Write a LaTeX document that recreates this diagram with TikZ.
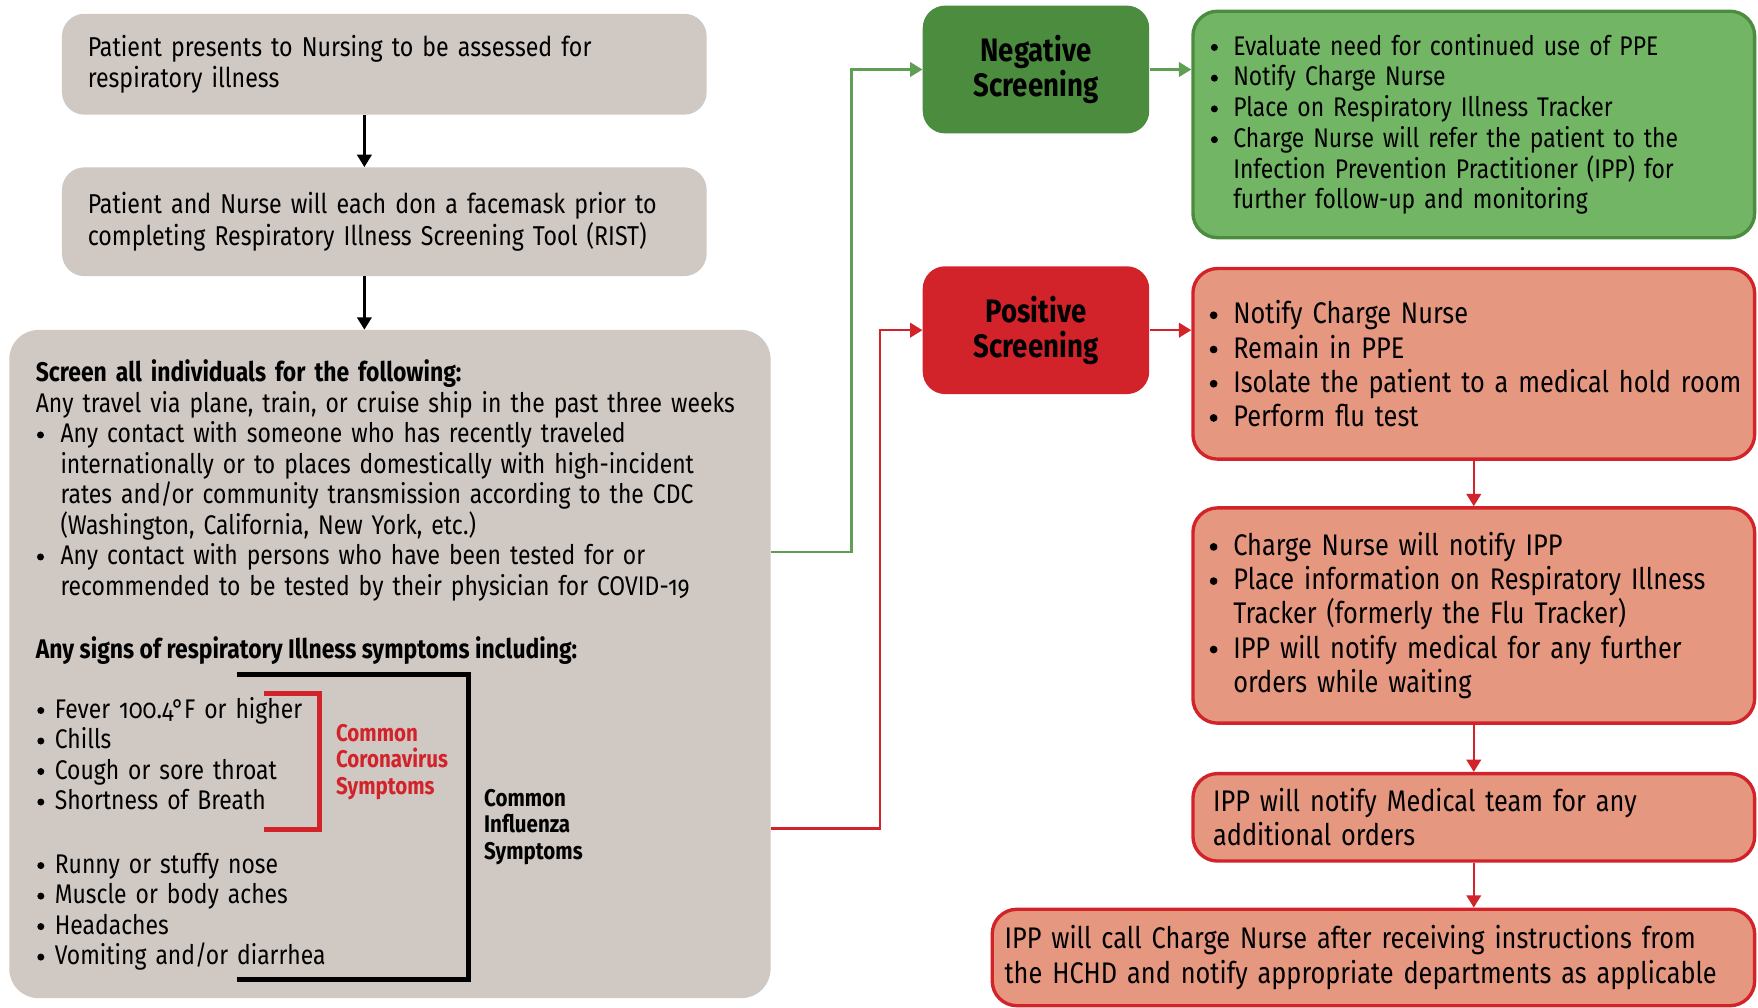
\documentclass[tikz,border=0pt]{standalone}
\usepackage{fontspec}
\setmainfont{Fira Sans}[Numbers=OldStyle,FakeStretch=0.85]
\usepackage[]{xcolor}
\usetikzlibrary{arrows.meta}
\usetikzlibrary{positioning}
\definecolor{boxgray}{RGB}{207,200,195}
\definecolor{darkgreen}{RGB}{76,140,63}
\definecolor{lightgreen}{RGB}{114,181,100}
\definecolor{linegreen}{RGB}{96,158,84}
\definecolor{scrred}{RGB}{210,35,42}
\definecolor{salmon}{RGB}{229,151,128}
\newdimen\upx
\upx=0.025cm
\newcommand{\fL}{\fontsize{17.1}{19.35}\selectfont}
\newcommand{\fT}{\fontsize{17.3}{19.9}\selectfont}
\newcommand{\fG}{\fontsize{17.1}{19.5}\selectfont}
\newcommand{\fR}{\fontsize{18.9}{21.7}\selectfont}
\newcommand{\fS}{\fontsize{15.3}{16.8}\selectfont}
\newcommand{\fH}{\fontsize{20.6}{22}\selectfont}
\newcommand{\dotb}{\tikz[baseline=0pt]\fill (0.24em,0.29em) circle[radius=0.13em];}
\newcommand{\itm}[2][0pt]{\hangindent=#2\hangafter=1\makebox[#2][l]{\hspace{#1}\dotb}}
\tikzset{graybox/.style = {fill=boxgray, rounded corners=20\upx, inner sep=0, align=left}}
\tikzset{txt/.style = {inner sep=0, align=left}}
\tikzset{titlebox/.style = {minimum width=202\upx, minimum height=114\upx, rounded corners=20\upx, align=center, font=\fH\bfseries}}
\tikzset{listbox/.style = {minimum width=501\upx, rounded corners=22\upx, line width=3\upx, align=left, text width=469\upx, inner xsep=16\upx, inner ysep=0}}
\tikzset{tip/.style = {-{Triangle[length=0.275cm,width=0.325cm]}}}
\tikzset{blackarrow/.style = {tip, line width=2\upx}}
\tikzset{greenarrow/.style = {tip, line width=2\upx, linegreen}}
\tikzset{redarrow/.style = {tip, line width=2\upx, scrred}}

\begin{document}
\begin{tikzpicture}[x=0.025cm, y=-0.025cm, font=\fL]
    \useasboundingbox (0,0) rectangle (1568,899);
    % left column
    \node[graybox, anchor=north west, minimum width=575\upx, minimum height=90\upx, text width=529\upx, font=\fT] (pres) at (55,12) {Patient presents to Nursing to be assessed for\\respiratory illness};
    \node[graybox, anchor=north west, minimum width=575\upx, minimum height=97\upx, text width=529\upx, font=\fT] (mask) at (55,149) {Patient and Nurse will each don a facemask prior to\\completing Respiratory Illness Screening Tool (RIST)};
    \node[graybox, anchor=north west, minimum width=679\upx, minimum height=596\upx, rounded corners=26\upx] (scr) at (8,294) {};
    \coordinate (arrx) at (325,0);
    \draw[blackarrow] (pres.south -| arrx) -- (mask.north -| arrx);
    \draw[blackarrow] (mask.south -| arrx) -- (scr.north -| arrx);

    % screening questions
    \node[txt, anchor=base west, text width=650\upx] (scrtop) at (31.7,340.5) {\textbf{Screen all individuals for the following:}\\Any travel via plane, train, or cruise ship in the past three weeks\par
        \itm[1\upx]{22\upx}Any contact with someone who has recently traveled\newline internationally or to places domestically with high-incident\newline rates and/or community transmission according to the CDC\newline (Washington, California, New York, etc.)\par
        \itm[1\upx]{22\upx}Any contact with persons who have been tested for or\newline recommended to be tested by their physician for COVID-19\par};
    \node[txt, anchor=base west] (signs) at (31.7,587) {\textbf{Any signs of respiratory Illness symptoms including:}};
    \node[txt, anchor=base west, text width=260\upx] (sympcor) at (33,640.7) {\itm{15.6\upx}Fever 100.4°F or higher\par\itm{15.6\upx}Chills\par\itm{15.6\upx}Cough or sore throat\par\itm{15.6\upx}Shortness of Breath\par};
    \node[txt, anchor=base west, text width=260\upx] (sympflu) at (33,779) {\itm{15.6\upx}Runny or stuffy nose\par\itm{15.6\upx}Muscle or body aches\par\itm{15.6\upx}Headaches\par\itm{15.6\upx}Vomiting and/or diarrhea\par};
    \node[txt, anchor=base west, text width=120\upx, text=scrred, font=\fS\bfseries] (corlab) at (299.5,661) {Common\\Coronavirus\\Symptoms};
    \node[txt, anchor=base west, text width=120\upx, font=\fS\bfseries] (flulab) at (431.6,719) {Common\\Influenza\\Symptoms};
    \draw[line width=4\upx, scrred] (235.5,618.4) -| (285,739.7) -- (235.5,739.7);
    \draw[line width=4.5\upx] (211.5,601.4) -| (418,874) -- (211.5,874);

    % screening results
    \node[titlebox, fill=darkgreen] (neg) at (924,62) {Negative\\Screening};
    \node[titlebox, fill=scrred] (pos) at (924,294.5) {Positive\\Screening};
    \node[listbox, draw=darkgreen, fill=lightgreen, minimum height=202\upx, font=\fG] (negd) at (1314.5,111) {\itm{20\upx}Evaluate need for continued use of PPE\par
        \itm{20\upx}Notify Charge Nurse\par
        \itm{20\upx}Place on Respiratory Illness Tracker\par
        \itm{20\upx}Charge Nurse will refer the patient to the\newline Infection Prevention Practitioner (IPP) for\newline further follow-up and monitoring\par};
    \node[listbox, draw=scrred, fill=salmon, minimum height=170\upx, inner xsep=7\upx, text width=487\upx, font=\fR] (posd1) at (1314.5,324.5) {\itm[8\upx]{29\upx}Notify Charge Nurse\par
        \itm[8\upx]{29\upx}Remain in PPE\par
        \itm[8\upx]{29\upx}Isolate the patient to a medical hold room\par
        \itm[8\upx]{29\upx}Perform flu test\par};
    \node[listbox, draw=scrred, fill=salmon, minimum height=192\upx, inner xsep=7\upx, text width=487\upx, font=\fR] (posd2) at (1314.5,549) {\itm[8\upx]{29\upx}Charge Nurse will notify IPP\par
        \itm[8\upx]{29\upx}Place information on Respiratory Illness\newline Tracker (formerly the Flu Tracker)\par
        \itm[8\upx]{29\upx}IPP will notify medical for any further\newline orders while waiting\par};
    \node[listbox, draw=scrred, fill=salmon, minimum height=78\upx, inner xsep=18\upx, text width=465\upx, font=\fR] (posd3) at (1314.5,729) {IPP will notify Medical team for any\\additional orders};
    \node[listbox, draw=scrred, fill=salmon, minimum width=680\upx, minimum height=86\upx, inner xsep=11\upx, text width=658\upx, font=\fR] (posd4) at (1225,854) {IPP will call Charge Nurse after receiving instructions from\\the HCHD and notify appropriate departments as applicable};

    \draw[greenarrow] ([yshift=100\upx]scr.east) -- ++(72,0) |- (neg.west);
    \draw[redarrow] ([yshift=-146.6\upx]scr.east) -- ++(97,0) |- (pos.west);
    \draw[greenarrow] (neg.east) -- (neg.east -| negd.west);
    \draw[redarrow] (pos.east) -- (pos.east -| posd1.west);
    \draw[redarrow] (posd1.south) -- (posd2.north);
    \draw[redarrow] (posd2.south) -- (posd3.north);
    \draw[redarrow] (posd3.south) -- (posd3.south |- posd4.north);
\end{tikzpicture}
\end{document}
